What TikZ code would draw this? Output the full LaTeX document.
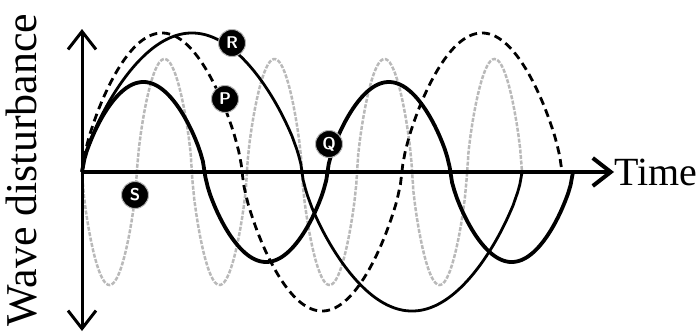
\documentclass[tikz,border=0pt]{standalone}
\usepackage{fontspec}
\setmainfont{Liberation Serif}
\usetikzlibrary{arrows.meta}
\begin{document}
\begin{tikzpicture}[x=1pt, y=-1pt, >={Straight Barb[length=18pt,width=28pt]},
    declare function={fat(\s)=ifthenelse(\s<0,-1,1)*pow(abs(\s)+0.0001,0.7);},
    qwave/.style={black, line width=3.8pt},
    rwave/.style={black, line width=2.8pt},
    pwave/.style={black, line width=2.8pt, dash pattern=on 8pt off 5pt},
    swave/.style={gray!55, line width=2.5pt, dash pattern=on 4pt off 1.5pt},
    lettag/.style={circle, fill=black, draw=gray!60, line width=1pt, text=white, inner sep=0pt, minimum size=27pt, font=\sffamily\bfseries\fontsize{17}{17}\selectfont}]
    \useasboundingbox (0,0) rectangle (700,333);

    % 坐标点
    \coordinate (O) at (82,172);
    \coordinate (yup) at (82,29);
    \coordinate (ydown) at (82,331);
    \coordinate (xend) at (614,172);

    % 绘制四列波
    \draw[swave, domain=82:522, samples=240] plot (\x, {172 + 113*fat(sin((\x-82)/110*360))});
    \draw[rwave, domain=82:522, samples=200] plot (\x, {172 - 139*fat(sin((\x-82)/440*360))});
    \draw[pwave, domain=82:562, samples=200] plot (\x, {172 - 139*fat(sin((\x-82)/320*360))});
    \draw[qwave, domain=82:573, samples=200] plot (\x, {172 - 90*fat(sin((\x-82)/245.5*360))});

    % 绘制坐标轴
    \draw[line width=3pt, <->] (ydown) -- (yup);
    \draw[line width=4pt, ->] (O) -- (xend);
    \node[anchor=west, inner sep=0pt, font=\fontsize{40}{40}\selectfont] (time) at (xend) {Time};
    \node[rotate=90, inner sep=0pt, font=\fontsize{44}{44}\selectfont] (ylab) at (22,170) {Wave disturbance};

    % 标注各列波
    \node[lettag] (R) at (232,43) {R};
    \node[lettag] (P) at (225,99) {P};
    \node[lettag] (Q) at (329,144) {Q};
    \node[lettag] (S) at (135,195) {S};
\end{tikzpicture}
\end{document}
